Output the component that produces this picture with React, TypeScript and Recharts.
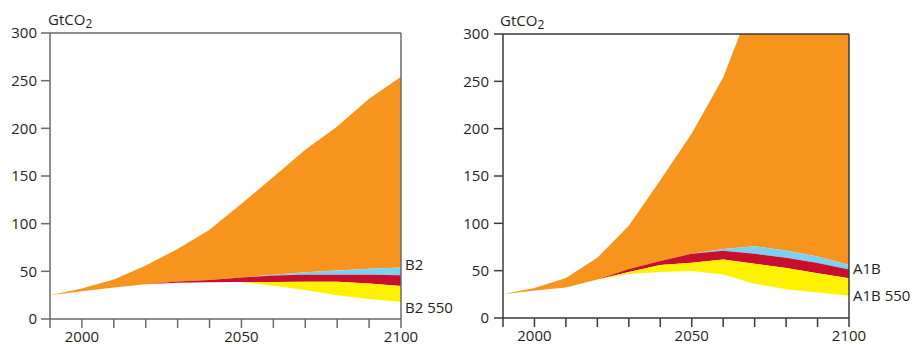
import React from 'react';
import { AreaChart, Area, XAxis, YAxis, ReferenceLine, ReferenceDot } from 'recharts';

const YEARS = [1990, 2000, 2010, 2020, 2030, 2040, 2050, 2060, 2070, 2080, 2090, 2100];
const LABELED_YEARS = [2000, 2050, 2100];
const Y_TICKS = [0, 50, 100, 150, 200, 250, 300];

// B2 scenario boundaries (GtCO2)
const b2Top = [25, 32, 41.5, 56, 73.5, 93.5, 121, 149, 177.5, 202, 231, 254];
const b2BlueTop = [25, 29, 33, 36.5, 39.4, 41, 43.6, 46.5, 49, 51, 52.6, 54];
const b2RedTop = [25, 29, 33, 36.5, 39.4, 41, 43.6, 45.7, 46.3, 46.3, 46.3, 46];
const b2YellowTop = [25, 29, 33, 36.5, 38, 38.5, 38.7, 38.7, 39, 39, 37.3, 34.5];
const b2Bottom = [25, 29, 33, 36.5, 38, 38.5, 38.7, 35, 30.5, 25, 21, 18];

// A1B scenario boundaries (GtCO2)
const a1bTop = [25, 31.7, 42.3, 63.7, 97.5, 145.5, 195, 254, 340, 420, 490, 550];
const a1bBlueTop = [25, 29, 32.3, 40.7, 51.8, 60.3, 67.9, 72.8, 75.7, 71.4, 65, 56.3];
const a1bRedTop = [25, 29, 32.3, 40.7, 51.8, 60.3, 67.9, 71, 67.9, 63.7, 58, 51.3];
const a1bYellowTop = [25, 29, 32.3, 40.7, 48.6, 56, 58.4, 61.9, 57.3, 52.7, 47.4, 42];
const a1bBottom = [25, 29, 32.3, 40.7, 46.5, 48.5, 49.6, 46, 36.2, 30.5, 27, 23.5];

const B2_LABELS = [{ text: 'B2', value: 56.5 }, { text: 'B2 550', value: 12.3 }];
const A1B_LABELS = [{ text: 'A1B', value: 52.5 }, { text: 'A1B 550', value: 23.6 }];

const ORANGE = '#F7941D';
const RED = '#C8102E';
const BLUE = '#7DD0F1';
const YELLOW = '#FFF200';
const FONT = 'Open Sans';
const TEXT = '#231F20';

function buildRows(bottom: number[], yTop: number[], rTop: number[], bTop: number[], top: number[]) {
  return YEARS.map((year, i) => ({
    year,
    yellow: [bottom[i], yTop[i]],
    red: [yTop[i], rTop[i]],
    blue: [rTop[i], bTop[i]],
    orange: [bTop[i], top[i]],
  }));
}

const b2Rows = buildRows(b2Bottom, b2YellowTop, b2RedTop, b2BlueTop, b2Top);
const a1bRows = buildRows(a1bBottom, a1bYellowTop, a1bRedTop, a1bBlueTop, a1bTop);

type PanelProps = {
  rows: any[];
  labels: { text: string; value: number }[];
  margin: { top: number; right: number; bottom: number; left: number };
  axisColor: string;
  left: number;
  yTickMargin: number;
  xTickMargin: number;
};

function Panel({ rows, labels, margin, axisColor, left, yTickMargin, xTickMargin }: PanelProps) {
  const tickStyle = { fontSize: 15, fill: TEXT, fontFamily: FONT };
  return (
    <div style={{ position: 'absolute', left, top: 0 }}>
      <AreaChart width={456} height={345} data={rows} margin={margin}>
        <XAxis
          dataKey="year"
          type="number"
          domain={[1990, 2100]}
          ticks={YEARS}
          interval={0}
          tickSize={9}
          tickMargin={xTickMargin}
          height={20}
          tickFormatter={(v: number) => (LABELED_YEARS.includes(v) ? String(v) : '')}
          axisLine={{ stroke: axisColor, strokeWidth: 1.5 }}
          tickLine={{ stroke: axisColor, strokeWidth: 1.5 }}
          tick={tickStyle}
        />
        <YAxis
          type="number"
          domain={[0, 300]}
          ticks={Y_TICKS}
          allowDataOverflow
          interval={0}
          width={40}
          tickSize={9}
          tickMargin={yTickMargin}
          axisLine={{ stroke: axisColor, strokeWidth: 1.5 }}
          tickLine={{ stroke: axisColor, strokeWidth: 1.5 }}
          tick={tickStyle}
        />
        <Area type="linear" dataKey="orange" fill={ORANGE} fillOpacity={1} stroke="none" isAnimationActive={false} />
        <Area type="linear" dataKey="blue" fill={BLUE} fillOpacity={1} stroke="none" isAnimationActive={false} />
        <Area type="linear" dataKey="red" fill={RED} fillOpacity={1} stroke="none" isAnimationActive={false} />
        <Area type="linear" dataKey="yellow" fill={YELLOW} fillOpacity={1} stroke="none" isAnimationActive={false} />
        <ReferenceLine y={300} stroke={axisColor} strokeWidth={1.5} />
        <ReferenceLine x={2100} stroke={axisColor} strokeWidth={1.5} />
        {labels.map((l) => (
          <ReferenceDot
            key={l.text}
            x={2100}
            y={l.value}
            r={0}
            fill="none"
            stroke="none"
            ifOverflow="visible"
            label={{ value: l.text, position: 'right', offset: 4, fill: TEXT, fontSize: 15, fontFamily: FONT }}
          />
        ))}
      </AreaChart>
    </div>
  );
}

export default function App() {
  return (
    <div style={{ position: 'relative', width: 912, height: 345, background: '#fff', overflow: 'hidden' }}>
      <style>{'body{margin:0}'}</style>
      <Panel
        rows={b2Rows}
        labels={B2_LABELS}
        margin={{ top: 33, right: 55, bottom: 6, left: 10 }}
        axisColor="#6a6a6a"
        left={0}
        yTickMargin={4}
        xTickMargin={3}
      />
      <Panel
        rows={a1bRows}
        labels={A1B_LABELS}
        margin={{ top: 34, right: 63, bottom: 7, left: 7 }}
        axisColor="#3a3a3a"
        left={456}
        yTickMargin={5}
        xTickMargin={3}
      />
      <svg width={912} height={345} style={{ position: 'absolute', left: 0, top: 0, pointerEvents: 'none' }}>
        <text x={48} y={25} fontSize={15} fontFamily={FONT} fill={TEXT}>
          GtCO<tspan fontSize={12} dy={2.5}>2</tspan>
        </text>
        <text x={500} y={26} fontSize={15} fontFamily={FONT} fill={TEXT}>
          GtCO<tspan fontSize={12} dy={2.5}>2</tspan>
        </text>
      </svg>
    </div>
  );
}
